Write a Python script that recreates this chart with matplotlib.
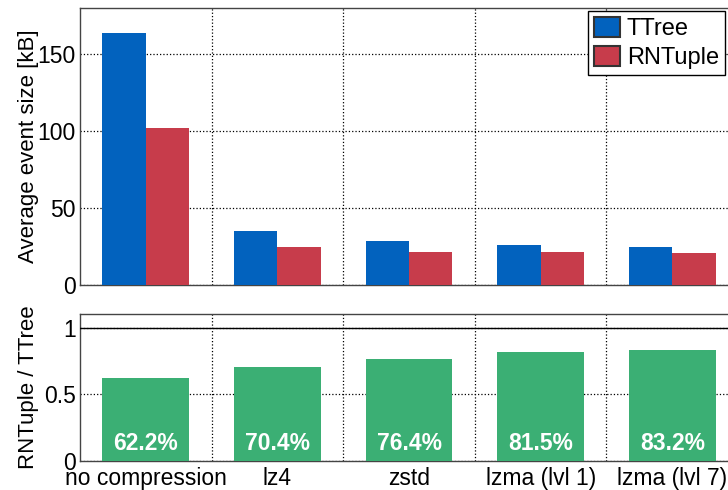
import matplotlib.pyplot as plt
import numpy as np
from matplotlib.patches import Patch

# data
categories = ["no compression", "lz4", "zstd", "lzma (lvl 1)", "lzma (lvl 7)"]
ttree_kb = [163.8, 35.1, 28.4, 26.2, 24.7]
rntuple_kb = [101.9, 24.7, 21.7, 21.3, 20.5]
ratio = [0.622, 0.704, 0.764, 0.815, 0.832]

blue = "#0262BE"
red = "#C73C4B"
green = "#3BAF74"

plt.rcParams["font.family"] = ["Liberation Sans", "DejaVu Sans"]

fig = plt.figure(figsize=(7.28, 4.9), dpi=100)
ax1 = fig.add_axes([0.1099, 0.4184, 0.904, 0.5653])
ax2 = fig.add_axes([0.1099, 0.0592, 0.904, 0.2994])

x = np.arange(len(categories))
w = 0.33

# Top panel: event sizes
ax1.bar(x - w / 2, ttree_kb, w, color=blue, zorder=3)
ax1.bar(x + w / 2, rntuple_kb, w, color=red, zorder=3)
ax1.set_xlim(-0.5, len(categories) - 0.5)
ax1.set_ylim(0, 180)
ax1.set_yticks([0, 50, 100, 150])
ax1.set_xticks(x)
ax1.set_xticklabels([])
ax1.set_ylabel("Average event size [kB]", fontsize=16)

# Bottom panel: ratio
ax2.bar(x, ratio, 0.66, color=green, zorder=3)
ax2.axhline(1.0, color="black", lw=1.0, zorder=4)
for xi, r in zip(x, ratio):
    ax2.text(xi, 0.13, f"{r * 100:.1f}%", color="white", fontsize=16.5,
             fontweight="bold", ha="center", va="center", zorder=5)
ax2.set_xlim(-0.5, len(categories) - 0.5)
ax2.set_ylim(0, 1.1)
ax2.set_yticks([0, 0.5, 1])
ax2.set_yticklabels(["0", "0.5", "1"])
ax2.set_xticks(x)
ax2.set_xticklabels(categories)
ax2.set_ylabel("RNTuple / TTree", fontsize=16)

for ax in (ax1, ax2):
    ax.set_xticks(np.arange(len(categories) - 1) + 0.5, minor=True)
    ax.grid(True, axis="y", which="major", ls=":", color="black", lw=0.9, zorder=0)
    ax.grid(True, axis="x", which="minor", ls=":", color="black", lw=0.9, zorder=0)
    ax.tick_params(which="both", length=0, labelsize=16.5, pad=3)
    for s in ax.spines.values():
        s.set_color("#444444")
        s.set_linewidth(1.0)
    ax.yaxis.set_label_coords(-0.063, 0.5)

ax2.tick_params(axis="x", pad=4)

ax1.legend(
    handles=[
        Patch(facecolor=blue, edgecolor="#333333", lw=1.5, label="TTree"),
        Patch(facecolor=red, edgecolor="#333333", lw=1.5, label="RNTuple"),
    ],
    loc="upper right",
    bbox_to_anchor=(0.98, 0.99),
    fontsize=17,
    frameon=True,
    fancybox=False,
    edgecolor="black",
    framealpha=1,
    borderpad=0.25,
    labelspacing=0.25,
    handlelength=1.1,
    handleheight=0.95,
    handletextpad=0.3,
    borderaxespad=0.0,
)

fig.savefig("out.png", dpi=100)
